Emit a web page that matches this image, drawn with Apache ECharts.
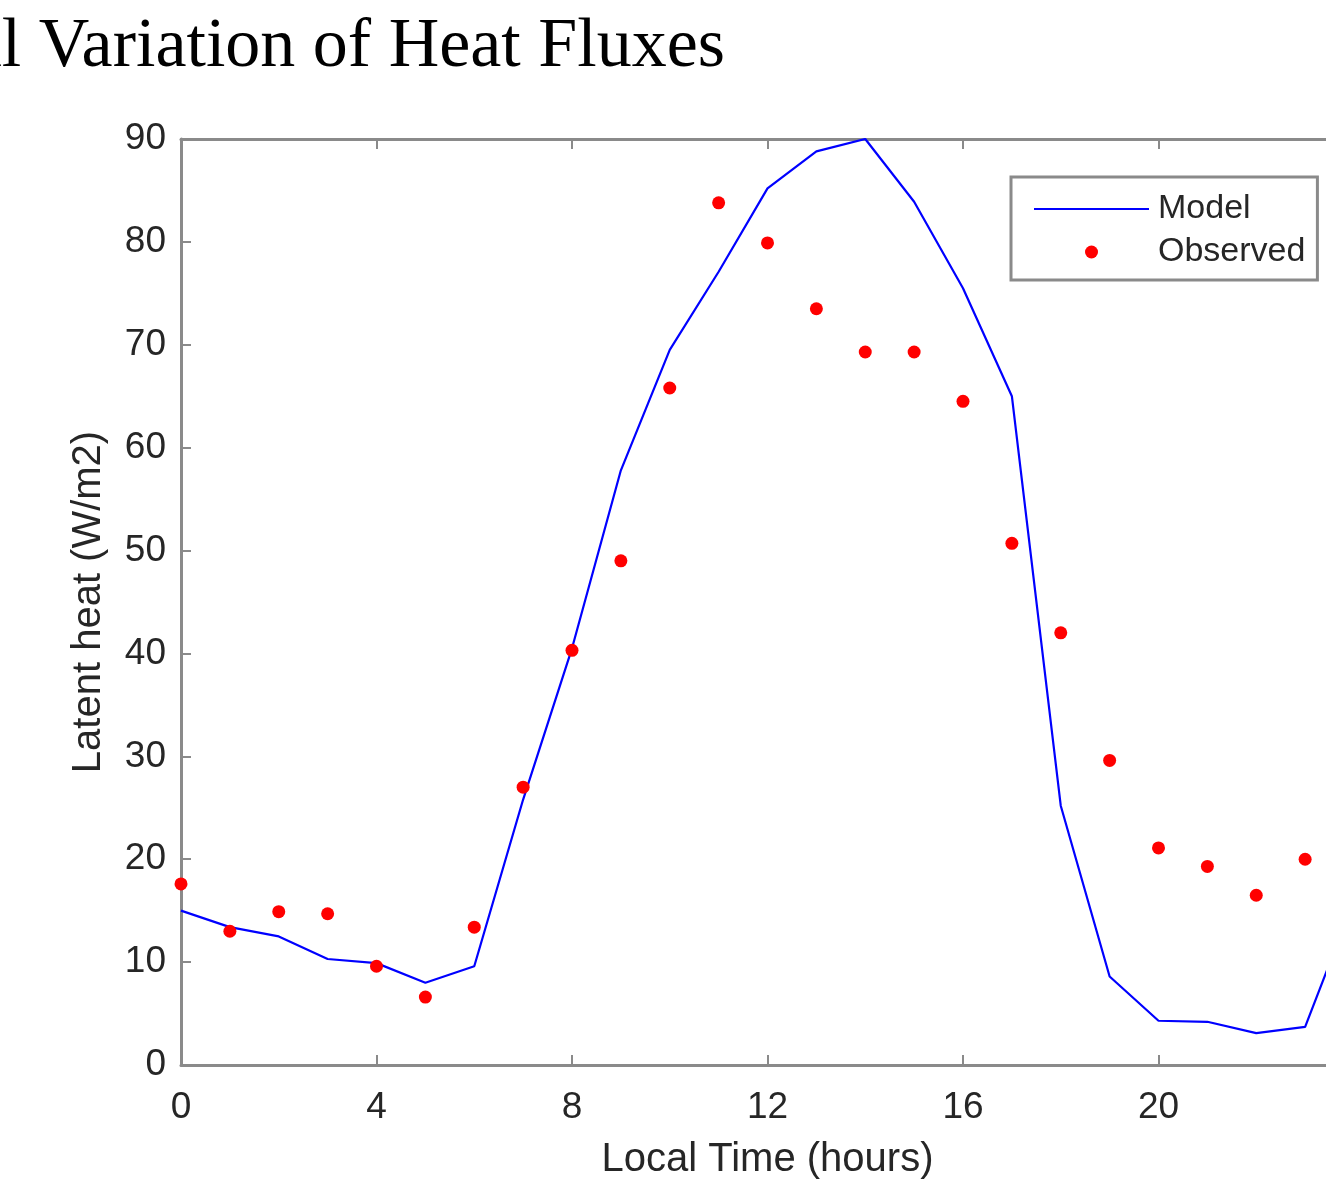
<!DOCTYPE html>
<html>
<head>
<meta charset="utf-8">
<script src="https://cdn.jsdelivr.net/npm/echarts@6/dist/echarts.min.js"></script>
<style>
  html, body { margin: 0; padding: 0; background: #fff; overflow: hidden; }
  #chart { width: 1400px; height: 1192px; }
</style>
</head>
<body>
<div id="chart"></div>
<script>
// ---- data ----
const titleText = 'Diurnal Variation of Heat Fluxes';
const xAxisName = 'Local Time (hours)';
const yAxisName = 'Latent heat (W/m2)';
const seriesNames = ['Model', 'Observed'];

const modelHours = [0, 1, 2, 3, 4, 5, 6, 7, 8, 9, 10, 11, 12, 13, 14, 15, 16, 17, 18, 19, 20, 21, 22, 23, 24];
const modelValues = [15.0, 13.4, 12.5, 10.3, 9.9, 8.0, 9.6, 25.8, 40.5, 57.8, 69.5, 77.1, 85.2, 88.8, 90.0, 83.9, 75.5, 65.0, 25.2, 8.6, 4.3, 4.2, 3.1, 3.7, 16.0];

const obsHours = [0, 1, 2, 3, 4, 5, 6, 7, 8, 9, 10, 11, 12, 13, 14, 15, 16, 17, 18, 19, 20, 21, 22, 23];
const obsValues = [17.6, 13.0, 14.9, 14.7, 9.6, 6.6, 13.4, 27.0, 40.3, 49.0, 65.8, 83.8, 79.9, 73.5, 69.3, 69.3, 64.5, 50.7, 42.0, 29.6, 21.1, 19.3, 16.5, 20.0];

const xMin = 0, xMax = 24, xStep = 4;
const yMin = 0, yMax = 90, yStep = 10;

// ---- chart ----
const chart = echarts.init(document.getElementById('chart'), null, { renderer: 'canvas' });

const axisGray = '#8a8a8a';
const textDark = '#262626';
const sans = '"Liberation Sans", Arial, Helvetica, sans-serif';

function xAxisCfg(pos, showLabel) {
  return {
    type: 'value', position: pos, min: xMin, max: xMax, interval: xStep,
    name: showLabel ? xAxisName : '',
    nameLocation: 'middle', nameGap: 75,
    nameTextStyle: { fontFamily: sans, fontSize: 40, color: textDark },
    axisLine: { show: true, onZero: false, lineStyle: { color: axisGray, width: 3 } },
    axisTick: { show: true, inside: true, length: 10, lineStyle: { color: axisGray, width: 2 } },
    axisLabel: { show: showLabel, margin: 24, fontFamily: sans, fontSize: 37, color: textDark },
    splitLine: { show: false }
  };
}
function yAxisCfg(pos, showLabel) {
  return {
    type: 'value', position: pos, min: yMin, max: yMax, interval: yStep,
    name: showLabel ? yAxisName : '',
    nameLocation: 'middle', nameGap: 72,
    nameTextStyle: { fontFamily: sans, fontSize: 40, color: textDark },
    axisLine: { show: true, onZero: false, lineStyle: { color: axisGray, width: 3 } },
    axisTick: { show: true, inside: true, length: 10, lineStyle: { color: axisGray, width: 2 } },
    axisLabel: { show: showLabel, margin: 15, fontFamily: sans, fontSize: 37, color: textDark },
    splitLine: { show: false }
  };
}

const option = {
  animation: false,
  backgroundColor: '#ffffff',
  graphic: [{
    type: 'text',
    x: 725, y: 48,
    style: {
      text: titleText,
      font: '70px "Liberation Serif", "Times New Roman", serif',
      fill: '#000000',
      textAlign: 'right',
      textVerticalAlign: 'middle'
    }
  }],
  grid: { left: 181, top: 139, width: 1173, height: 926, containLabel: false },
  xAxis: [xAxisCfg('bottom', true), xAxisCfg('top', false)],
  yAxis: [yAxisCfg('left', true), yAxisCfg('right', false)],
  legend: {
    orient: 'vertical',
    left: 1011, top: 177,
    padding: [15, 12, 11, 22],
    itemGap: 9,
    itemWidth: 115, itemHeight: 13,
    backgroundColor: '#ffffff',
    borderColor: axisGray, borderWidth: 3,
    textStyle: { fontFamily: sans, fontSize: 34, lineHeight: 33, color: textDark, padding: [0, 0, 0, 4] },
    data: [
      { name: seriesNames[0], itemStyle: { color: 'rgba(0,0,0,0)', borderWidth: 0, opacity: 0 } },
      { name: seriesNames[1] }
    ]
  },
  series: [
    {
      name: seriesNames[0], type: 'line',
      data: modelHours.map((h, i) => [h, modelValues[i]]),
      symbol: 'none', showSymbol: false,
      lineStyle: { color: '#0000ff', width: 2.2 },
      itemStyle: { color: '#0000ff' },
      clip: true, z: 3
    },
    {
      name: seriesNames[1], type: 'scatter',
      data: obsHours.map((h, i) => [h, obsValues[i]]),
      symbol: 'circle', symbolSize: 13,
      itemStyle: { color: '#ff0000', opacity: 1 },
      z: 4
    }
  ]
};
chart.setOption(option);
</script>
</body>
</html>
